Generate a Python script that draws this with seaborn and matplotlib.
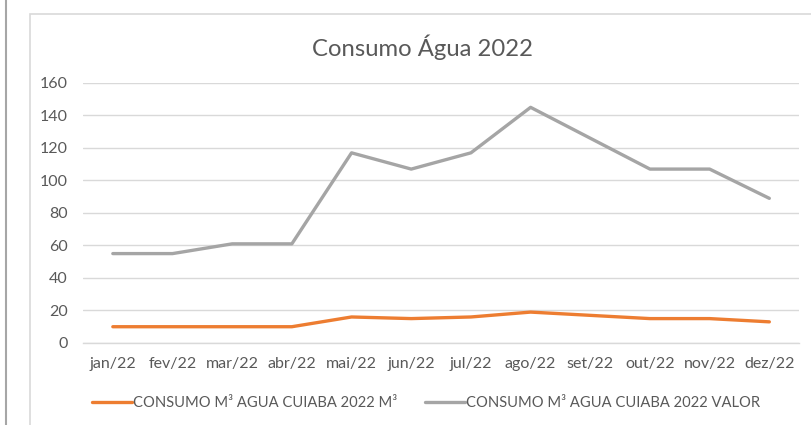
import pandas as pd
import seaborn as sns
import matplotlib.pyplot as plt
from matplotlib.patches import Rectangle
from matplotlib.lines import Line2D

# data
meses = ['jan/22', 'fev/22', 'mar/22', 'abr/22', 'mai/22', 'jun/22',
         'jul/22', 'ago/22', 'set/22', 'out/22', 'nov/22', 'dez/22']
consumo_m3 = [10, 10, 10, 10, 16, 15, 16, 19, 17, 15, 15, 13]
consumo_valor = [55, 55, 61, 61, 117, 107, 117, 145, 126, 107, 107, 89]
serie_m3 = 'CONSUMO M³ AGUA CUIABA 2022 M³'
serie_valor = 'CONSUMO M³ AGUA CUIABA 2022 VALOR'

df = pd.DataFrame({
    'Mes': meses * 2,
    'Valor': consumo_m3 + consumo_valor,
    'Serie': [serie_m3] * len(meses) + [serie_valor] * len(meses),
})

sns.set_theme(style='white')
plt.rcParams['font.family'] = ['Lato', 'DejaVu Sans']

texto = '#595959'
grade = '#d9d9d9'

fig = plt.figure(figsize=(8.12, 4.25), dpi=100)
ax = fig.add_axes([0.1022, 0.193, 0.882, 0.6118])

sns.lineplot(data=df, x='Mes', y='Valor', hue='Serie', sort=False,
             palette={serie_m3: '#ED7D31', serie_valor: '#A5A5A5'},
             linewidth=2.4, ax=ax, legend=False)

ax.set_xlim(-0.5, len(meses) - 0.5)
ax.set_ylim(0, 160)
ax.set_yticks(range(0, 161, 20))
ax.yaxis.grid(True, color=grade, linewidth=1)
ax.set_axisbelow(True)
ax.set_xlabel('')
ax.set_ylabel('')

for lado in ['top', 'right', 'left']:
    ax.spines[lado].set_visible(False)
ax.spines['bottom'].set_color(grade)
ax.spines['bottom'].set_linewidth(1)

# tick marks between categories, labels at centre
ax.set_xticks([i + 0.5 for i in range(-1, len(meses))], minor=True)
ax.tick_params(axis='x', which='minor', length=7, color=grade, width=1, direction='out')
ax.tick_params(axis='x', which='major', length=0, pad=10, labelsize=11.5, labelcolor=texto)
ax.tick_params(axis='y', length=0, pad=11, labelsize=11.5, labelcolor=texto)

fig.text(0.520, 0.889, 'Consumo Água 2022', ha='center', va='center',
         fontsize=17.2, color=texto)

# legend
handles = [Line2D([], [], color='#ED7D31', linewidth=2.4),
           Line2D([], [], color='#A5A5A5', linewidth=2.4)]
fig.legend(handles, [serie_m3, serie_valor], loc='center', ncol=2,
           bbox_to_anchor=(0.525, 0.052), frameon=False, fontsize=10.6,
           labelcolor=texto, handlelength=2.7, handletextpad=0.1,
           columnspacing=1.85)

# chart border and sheet edge
fig.patches.append(Rectangle((30 / 812, -0.05), 1.0, 1 - 14 / 425 + 0.05,
                             transform=fig.transFigure, fill=False,
                             edgecolor=grade, linewidth=1.2))
fig.lines.append(Line2D([6 / 812, 6 / 812], [0, 1], transform=fig.transFigure,
                        color='#a6a6a6', linewidth=1.5))

fig.savefig('out.png', dpi=100)
